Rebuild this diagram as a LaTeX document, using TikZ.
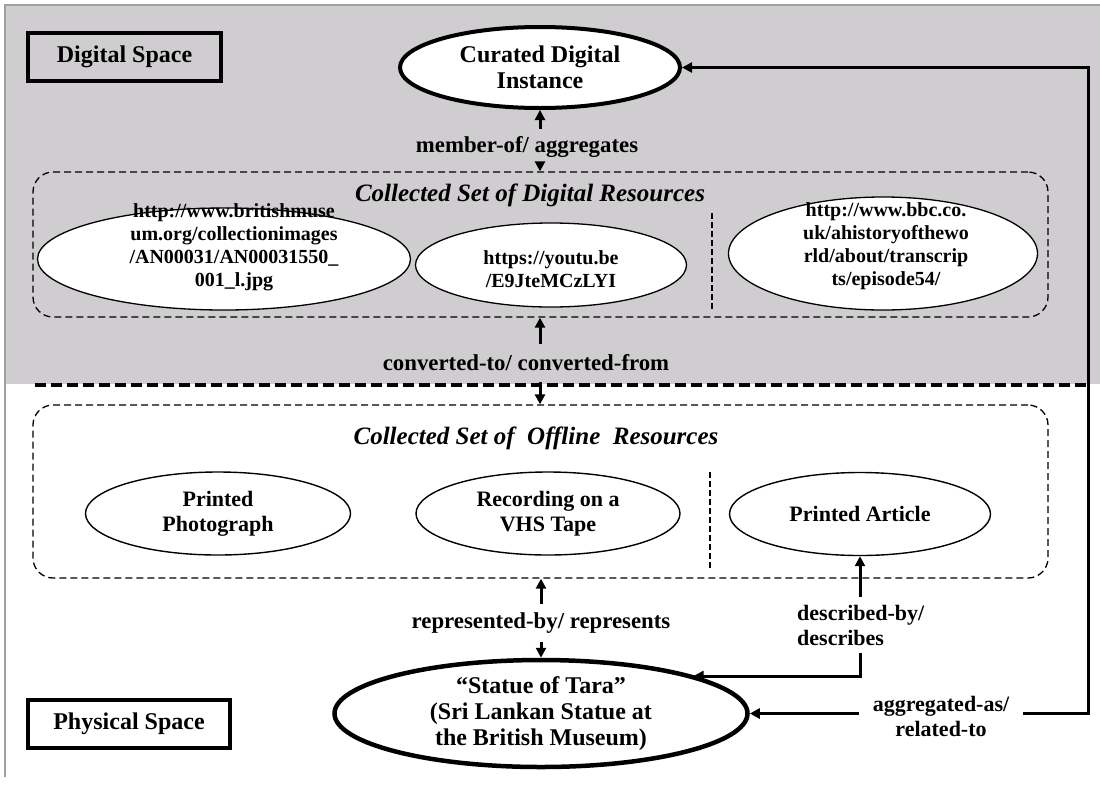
\documentclass[tikz,border=0pt]{standalone}
\usepackage{fontspec}
\setmainfont{Liberation Serif}
\usetikzlibrary{arrows.meta,shapes.geometric}

% font sizes (1pt = one unit of the drawing grid)
\newcommand\fsbig{\fontsize{24}{26}\selectfont}
\newcommand\fstitle{\fontsize{25}{28}\selectfont}
\newcommand\fslab{\fontsize{22}{25}\selectfont}
\newcommand\fsrel{\fontsize{22.8}{25}\selectfont}
\newcommand\fsurl{\fontsize{20}{23}\selectfont}

\definecolor{bggray}{RGB}{207,205,207}
\definecolor{framegray}{RGB}{160,160,160}

\begin{document}
\begin{tikzpicture}[x=1pt,y=-1pt,
  spacebox/.style={draw, line width=4pt, minimum height=48pt, inner sep=0pt, font=\bfseries\fsbig},
  mainell/.style={ellipse, draw, line width=4pt, fill=white, inner sep=0pt, align=center, font=\bfseries\fsbig},
  itemell/.style={ellipse, draw, line width=1.4pt, fill=white, inner sep=0pt, align=center, font=\bfseries\fslab},
  urltext/.style={align=center, inner sep=0pt, font=\bfseries\fsurl},
  setbox/.style={draw, line width=1.3pt, dash pattern=on 7pt off 4pt, rounded corners=20pt, minimum width=1015pt, inner sep=0pt},
  settitle/.style={inner sep=0pt, font=\bfseries\itshape\fstitle},
  rel/.style={align=center, inner xsep=14pt, inner ysep=0pt, font=\bfseries\fsrel},
  link/.style={line width=3pt, -{Triangle[length=10pt,width=10pt]}},
  divider/.style={line width=2pt, dash pattern=on 6pt off 3pt},
  sepline/.style={line width=3.5pt, dash pattern=on 11pt off 5pt},
]
\useasboundingbox (0,0) rectangle (1100,785);

% digital space background and frame
\fill[bggray] (6,6) rectangle (1100,384);
\draw[framegray, line width=1.5pt] (5,777) -- (5,5) -- (1100,5);
\draw[sepline] (35,385) -- (1088,385);

% space labels
\node[spacebox, minimum width=193pt] (digital) at (124.5,57) {Digital Space};
\node[spacebox, minimum width=202pt] (physical) at (129,723.5) {Physical Space};

% top-level instance
\node[mainell, minimum width=280pt, minimum height=81pt] (cdi) at (540,67.5) {Curated Digital\\Instance};

% collected set of digital resources
\node[setbox, minimum height=145pt] (digset) at (540.5,244.5) {};
\node[settitle] (digtitle) at (530,195) {Collected Set of Digital Resources};
\node[itemell, line width=1.3pt, minimum width=373pt, minimum height=102pt] (bm) at (224,259) {};
\node[urltext] (bmtext) at (234,247) {http://www.britishmuse\\um.org/collectionimages\\/AN00031/AN00031550\_\\001\_l.jpg};
\node[itemell, line width=1.3pt, minimum width=271pt, minimum height=84pt] (yt) at (551,265) {};
\node[urltext] (yttext) at (551,269) {https://youtu.be\\/E9JteMCzLYI};
\node[itemell, line width=1.3pt, minimum width=309pt, minimum height=113pt] (bbc) at (883,253.5) {};
\node[urltext] (bbctext) at (886,246) {http://www.bbc.co.\\uk/ahistoryofthewo\\rld/about/transcrip\\ts/episode54/};
\draw[divider] (712,213) -- (712,310);

% collected set of offline resources
\node[setbox, minimum height=173pt] (offset) at (540.5,491.5) {};
\node[settitle] (offtitle) at (536,438) {Collected Set of\ \ Offline\ \ Resources};
\node[itemell, minimum width=265pt, minimum height=83pt] (photo) at (218,513.5) {Printed\\Photograph};
\node[itemell, minimum width=264pt, minimum height=83pt] (vhs) at (548,513.5) {Recording on a\\VHS Tape};
\node[itemell, minimum width=261pt, minimum height=83pt] (article) at (860,514) {Printed Article};
\draw[divider] (710,472) -- (710,570);

% physical object
\node[mainell, line width=4.5pt, minimum width=413pt, minimum height=107pt] (statue) at (541,713.5)
  {“Statue of Tara”\\(Sri Lankan Statue at\\the British Museum)};

% relationship labels
\node[rel, minimum height=36pt] (member) at (527,147) {member-of/ aggregates};
\node[rel, minimum height=38pt] (conv) at (526,363) {converted-to/ converted-from};
\node[rel, minimum height=38pt] (rep) at (541,623) {represented-by/ represents};
\node[rel, font=\bfseries\fslab, align=left, inner xsep=0pt, inner ysep=8pt, anchor=west] (desc) at (797,625) {described-by/\\describes};
\node[rel, font=\bfseries\fslab] (agg) at (941,716.5) {aggregated-as/\\related-to};

% connectors
\draw[link] (member.north -| cdi.south) -- (cdi.south);
\draw[link] (member.south -| cdi.south) -- (digset.north -| cdi.south);
\draw[link] (conv.north -| cdi.south) -- (digset.south -| cdi.south);
\draw[link] (conv.south -| cdi.south) -- (offset.north -| cdi.south);
\draw[link] (rep.north -| statue.north) -- (offset.south -| statue.north);
\draw[link] (rep.south -| statue.north) -- (statue.north);
\draw[link] (desc.north -| article.south) -- (article.south);
\coordinate (dcorner) at (860,676);
\draw[link] (desc.south -| article.south) -- (dcorner) -- (dcorner -| statue.14);
\draw[link] (agg.west |- statue.east) -- (statue.east);
\coordinate (rline) at (1088,0);
\draw[link] (agg.east |- statue.east) -| (rline |- cdi.east) -- (cdi.east);
\end{tikzpicture}
\end{document}
